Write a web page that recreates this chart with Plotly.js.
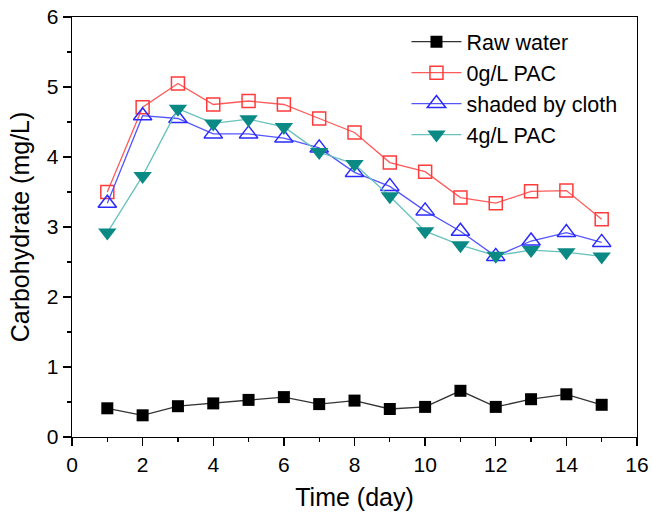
<!DOCTYPE html>
<html>
<head>
<meta charset="utf-8">
<script src="https://cdn.plot.ly/plotly-3.0.1.min.js"></script>
<style>
  html, body { margin: 0; padding: 0; background: #fff; }
  #chart { width: 652px; height: 515px; }
</style>
</head>
<body>
<div id="chart"></div>
<script>
// Carbohydrate concentration over 15 days of treatment
const days = [1, 2, 3, 4, 5, 6, 7, 8, 9, 10, 11, 12, 13, 14, 15];
const rawWater = [0.41, 0.31, 0.44, 0.48, 0.53, 0.57, 0.47, 0.52, 0.40, 0.43, 0.66, 0.43, 0.54, 0.61, 0.46];
const pac0 = [3.50, 4.71, 5.05, 4.75, 4.80, 4.75, 4.55, 4.35, 3.92, 3.79, 3.42, 3.34, 3.51, 3.52, 3.11];
const shaded = [3.34, 4.59, 4.55, 4.33, 4.33, 4.27, 4.13, 3.78, 3.58, 3.23, 2.94, 2.58, 2.80, 2.92, 2.78];
const pac4 = [2.92, 3.73, 4.69, 4.48, 4.54, 4.43, 4.07, 3.90, 3.44, 2.94, 2.74, 2.59, 2.67, 2.64, 2.58];

const font = "Liberation Sans, Arial, sans-serif";

const traces = [
  {
    x: days, y: rawWater, name: "Raw water", mode: "lines+markers",
    line: { color: "#333333", width: 1.3 },
    marker: { symbol: "square", size: 12, color: "#000000" }
  },
  {
    x: days, y: pac0, name: "0g/L PAC", mode: "lines+markers",
    line: { color: "#ff5a5a", width: 1.3 },
    marker: { symbol: "square-open", size: 13, color: "#ff3b3b", line: { width: 1.5 } }
  },
  {
    x: days, y: shaded, name: "shaded by cloth", mode: "lines+markers",
    line: { color: "#5555ff", width: 1.3 },
    marker: { symbol: "triangle-up-open", size: 16, color: "#2a2aff", line: { width: 1.5 } }
  },
  {
    x: days, y: pac4, name: "4g/L PAC", mode: "lines+markers",
    line: { color: "#66c2bc", width: 1.3 },
    marker: { symbol: "triangle-down", size: 16, color: "#0b8a85" }
  }
];

const layout = {
  width: 652, height: 515,
  margin: { l: 72, r: 15, t: 17, b: 78 },
  paper_bgcolor: "#ffffff", plot_bgcolor: "#ffffff",
  font: { family: font, size: 21, color: "#000" },
  showlegend: true,
  legend: {
    x: 0.592, y: 0.99, xanchor: "left", yanchor: "top",
    bgcolor: "rgba(0,0,0,0)", borderwidth: 0,
    font: { family: font, size: 21.5, color: "#000" },
    itemwidth: 50, tracegroupgap: 0
  },
  xaxis: {
    range: [0, 16], tickvals: [0, 2, 4, 6, 8, 10, 12, 14, 16],
    ticks: "outside", ticklen: 8, tickwidth: 1.3, tickcolor: "#000",
    minor: { dtick: 1, ticks: "outside", ticklen: 4, tickwidth: 1.3, tickcolor: "#000", showgrid: false },
    showline: true, linecolor: "#000", linewidth: 1.3, mirror: true,
    showgrid: false, zeroline: false,
    tickfont: { family: font, size: 21 },
    title: { text: "Time (day)", font: { family: font, size: 25 }, standoff: 14 }
  },
  yaxis: {
    range: [0, 6], tickvals: [0, 1, 2, 3, 4, 5, 6],
    ticks: "outside", ticklen: 8, tickwidth: 1.3, tickcolor: "#000",
    minor: { dtick: 0.5, ticks: "outside", ticklen: 4, tickwidth: 1.3, tickcolor: "#000", showgrid: false },
    showline: true, linecolor: "#000", linewidth: 1.3, mirror: true,
    showgrid: false, zeroline: false,
    tickfont: { family: font, size: 21 },
    title: { text: "Carbohydrate (mg/L)", font: { family: font, size: 25 }, standoff: 10 }
  }
};

Plotly.newPlot("chart", traces, layout, { displayModeBar: false, staticPlot: true });
</script>
</body>
</html>
